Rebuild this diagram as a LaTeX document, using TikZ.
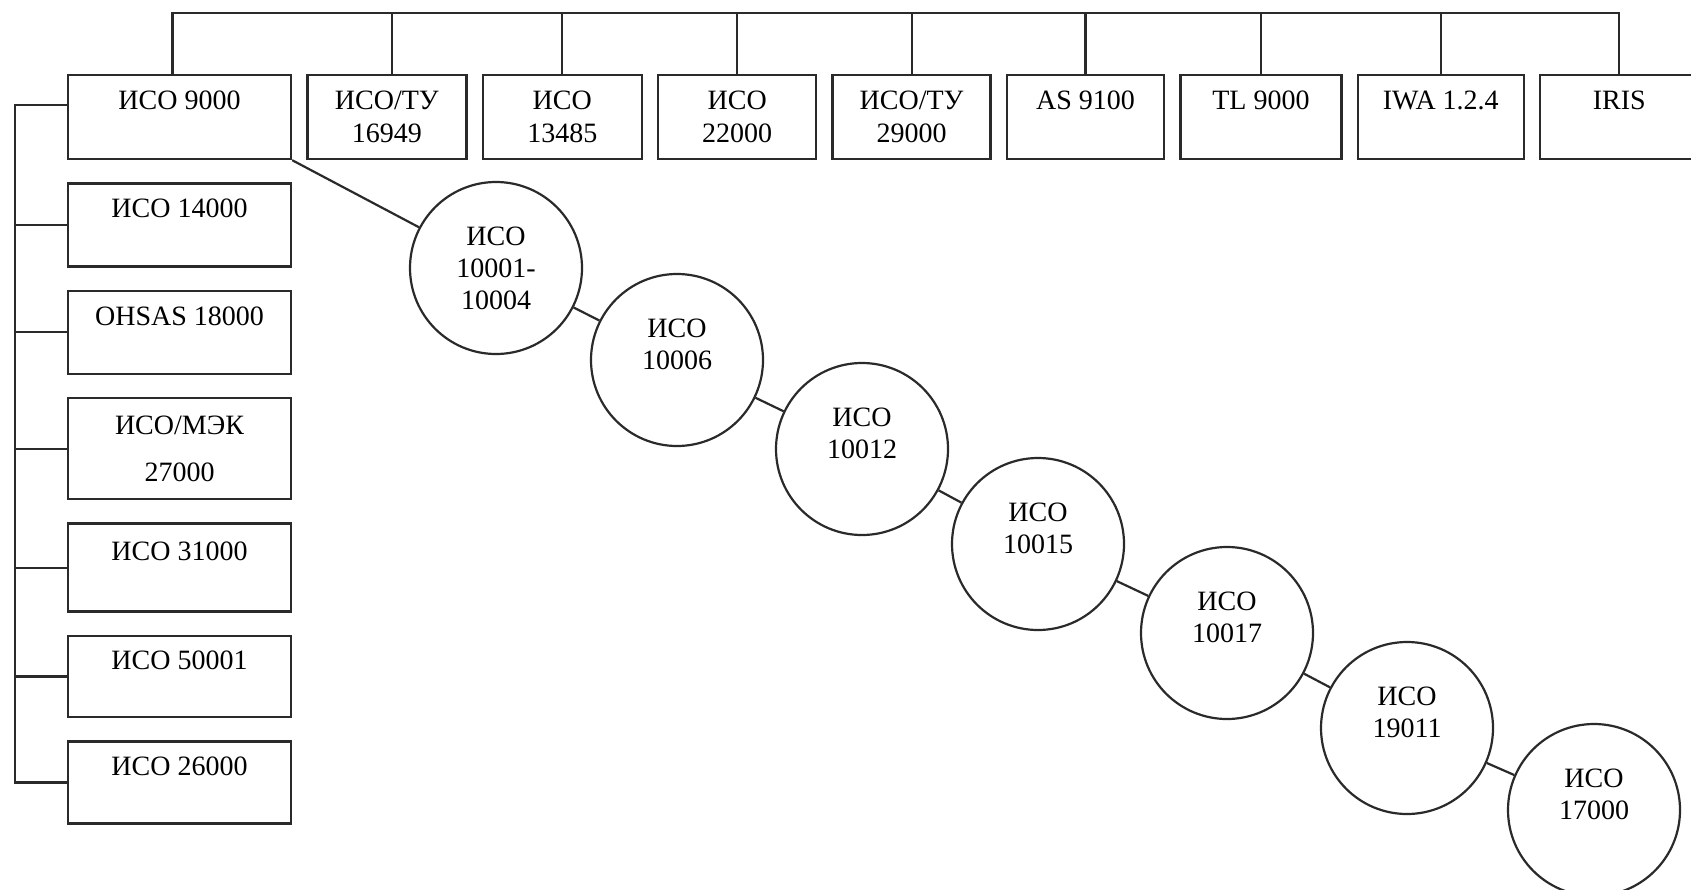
\documentclass[tikz,border=0pt]{standalone}
\usepackage{fontspec}
\setmainfont{Liberation Serif}
\usetikzlibrary{positioning}
\definecolor{inkgray}{HTML}{2A2A2A}
\tikzstyle{stdbox} = [rectangle, draw=inkgray, line width=2.4pt, minimum width=159pt, minimum height=84pt, inner sep=0pt, align=center, text=black, font=\fontsize{28}{33}\selectfont]
\tikzstyle{stdcircle} = [circle, draw=inkgray, line width=2.2pt, minimum size=172pt, inner sep=0pt, align=center, text=black, font=\fontsize{28}{32}\selectfont]
\tikzstyle{link} = [draw=inkgray, line width=2.2pt]

\begin{document}
\begin{tikzpicture}[x=1pt, y=-1pt]
    \useasboundingbox (0,0) rectangle (1691,889);
    \clip (0,0) rectangle (1691,889);
    \coordinate (bus) at (0,13);
    \coordinate (lbus) at (15,0);

    % верхний ряд
    \node (iso9000) [stdbox, minimum width=223pt] at (179.5,117) {ИСО 9000\\\mbox{}};
    \node (isots16949) [stdbox, right=14pt of iso9000] {ИСО/ТУ\\16949};
    \node (iso13485) [stdbox, right=14pt of isots16949] {ИСО\\13485};
    \node (iso22000) [stdbox, right=14pt of iso13485, minimum width=158pt] {ИСО\\22000};
    \node (isots29000) [stdbox, right=14pt of iso22000, minimum width=158pt] {ИСО/ТУ\\29000};
    \node (as9100) [stdbox, right=14pt of isots29000, minimum width=157pt] {AS 9100\\\mbox{}};
    \node (tl9000) [stdbox, right=14pt of as9100, minimum width=161pt] {TL 9000\\\mbox{}};
    \node (iwa) [stdbox, right=14pt of tl9000, minimum width=166pt] {IWA 1.2.4\\\mbox{}};
    \node (iris) [stdbox, right=14pt of iwa, minimum width=158pt] {IRIS\\\mbox{}};

    % левый столбец
    \node (iso14000) [stdbox, minimum width=223pt, minimum height=83pt, below=22pt of iso9000] {ИСО 14000\\\mbox{}};
    \node (ohsas) [stdbox, minimum width=223pt, minimum height=83pt, below=22pt of iso14000] {OHSAS 18000\\\mbox{}};
    \node (isoiec27000) [stdbox, minimum width=223pt, minimum height=101pt, below=22pt of ohsas] {ИСО/МЭК\\[14pt]27000};
    \node (iso31000) [stdbox, minimum width=223pt, minimum height=88pt, below=22pt of isoiec27000] {ИСО 31000\\\mbox{}};
    \node (iso50001) [stdbox, minimum width=223pt, minimum height=81pt, below=22pt of iso31000] {ИСО 50001\\\mbox{}};
    \node (iso26000) [stdbox, minimum width=223pt, minimum height=82pt, below=22pt of iso50001] {ИСО 26000\\\mbox{}};

    % круги
    \node (c10001) [stdcircle] at (496,268) {ИСО\\10001-\\10004};
    \node (c10006) [stdcircle] at (677,360) {ИСО\\10006\\\mbox{}};
    \node (c10012) [stdcircle] at (862,449) {ИСО\\10012\\\mbox{}};
    \node (c10015) [stdcircle] at (1038,544) {ИСО\\10015\\\mbox{}};
    \node (c10017) [stdcircle] at (1227,633) {ИСО\\10017\\\mbox{}};
    \node (c19011) [stdcircle] at (1407,728) {ИСО\\19011\\\mbox{}};
    \node (c17000) [stdcircle] at (1594,810) {ИСО\\17000\\\mbox{}};

    % связи сверху
    \draw [link] ([xshift=-7pt]iso9000.north) |- (bus -| iris.north) -- (iris.north);
    \draw [link] ([xshift=5pt]isots16949.north) -- ([xshift=5pt]isots16949.north |- bus);
    \draw [link] (iso13485.north) -- (iso13485.north |- bus);
    \draw [link] (iso22000.north) -- (iso22000.north |- bus);
    \draw [link] (isots29000.north) -- (isots29000.north |- bus);
    \draw [link] (as9100.north) -- (as9100.north |- bus);
    \draw [link] (tl9000.north) -- (tl9000.north |- bus);
    \draw [link] (iwa.north) -- (iwa.north |- bus);

    % связи слева
    \draw [link] ([yshift=12pt]iso9000.west) -| (lbus |- iso26000.west) -- (iso26000.west);
    \draw [link] (iso14000.west) -- (lbus |- iso14000.west);
    \draw [link] (ohsas.west) -- (lbus |- ohsas.west);
    \draw [link] (isoiec27000.west) -- (lbus |- isoiec27000.west);
    \draw [link] (iso31000.west) -- (lbus |- iso31000.west);
    \draw [link] (iso50001.west) -- (lbus |- iso50001.west);

    % цепочка кругов
    \draw [link] (iso9000.south east) -- (c10001);
    \draw [link] (c10001) -- (c10006);
    \draw [link] (c10006) -- (c10012);
    \draw [link] (c10012) -- (c10015);
    \draw [link] (c10015) -- (c10017);
    \draw [link] (c10017) -- (c19011);
    \draw [link] (c19011) -- (c17000);
\end{tikzpicture}
\end{document}
